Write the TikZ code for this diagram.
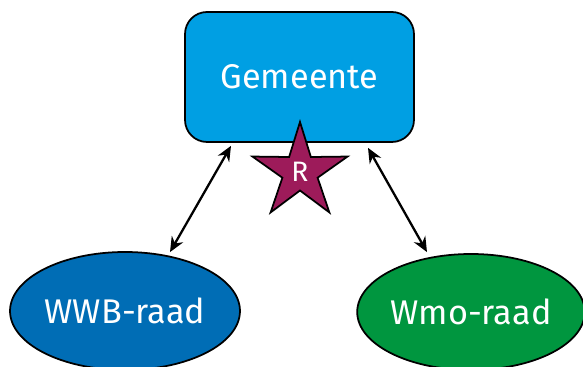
\documentclass[tikz,border=0pt]{standalone}
\usepackage{fontspec}
\setmainfont{Fira Sans}
\usetikzlibrary{
	shapes.geometric,
	arrows.meta,
	calc
}
\definecolor{gemeenteblauw}{HTML}{009FE3}
\definecolor{wwbblauw}{HTML}{006DB5}
\definecolor{wmogroen}{HTML}{00963F}
\definecolor{sterrood}{HTML}{9D1B5A}
\tikzset{
	organ/.style={
		draw=black,
		line width=1pt,
		text=white,
		font=\fontsize{19.5}{23}\selectfont
	},
	gemeentebox/.style={
		organ,
		rectangle,
		rounded corners=0.44cm,
		fill=gemeenteblauw,
		minimum width=4.58cm,
		minimum height=2.6cm
	},
	raad/.style={
		organ,
		ellipse,
		inner sep=0pt,
		minimum width=4.6cm,
		minimum height=2.36cm
	},
	rolster/.style={
		draw=black,
		line width=1pt,
		star,
		star points=5,
		star point ratio=2.7,
		inner sep=0pt,
		minimum size=2cm,
		fill=sterrood,
		text=white,
		font=\fontsize{16}{19}\selectfont
	},
	relatie/.style={
		{Stealth[length=3mm,width=2.6mm]}-{Stealth[length=3mm,width=2.6mm]},
		line width=1.3pt
	}
}
\begin{document}
\begin{tikzpicture}[x=0.02cm,y=0.02cm] %%%% GEMEENTE EN RADEN
		\useasboundingbox (0,0) rectangle (583,367);
		\node[gemeentebox] (gemeente) at (299.5,290) {Gemeente};
		\node[rolster] (ster) at (300,195) {R};
		\node[raad, fill=wwbblauw] (wwb) at (125,56) {WWB-raad};
		\node[raad, fill=wmogroen, minimum width=4.44cm, minimum height=2.32cm] (wmo) at (471,55) {Wmo-raad};
		% relaties
		\draw[relatie] ($(wwb.north)+(45,-1)$) -- ($(gemeente.south)+(-68.5,-3)$);
		\draw[relatie] ($(wmo.north)+(-44,1)$) -- ($(gemeente.south)+(68.5,-5)$);
	\end{tikzpicture}
\end{document}
